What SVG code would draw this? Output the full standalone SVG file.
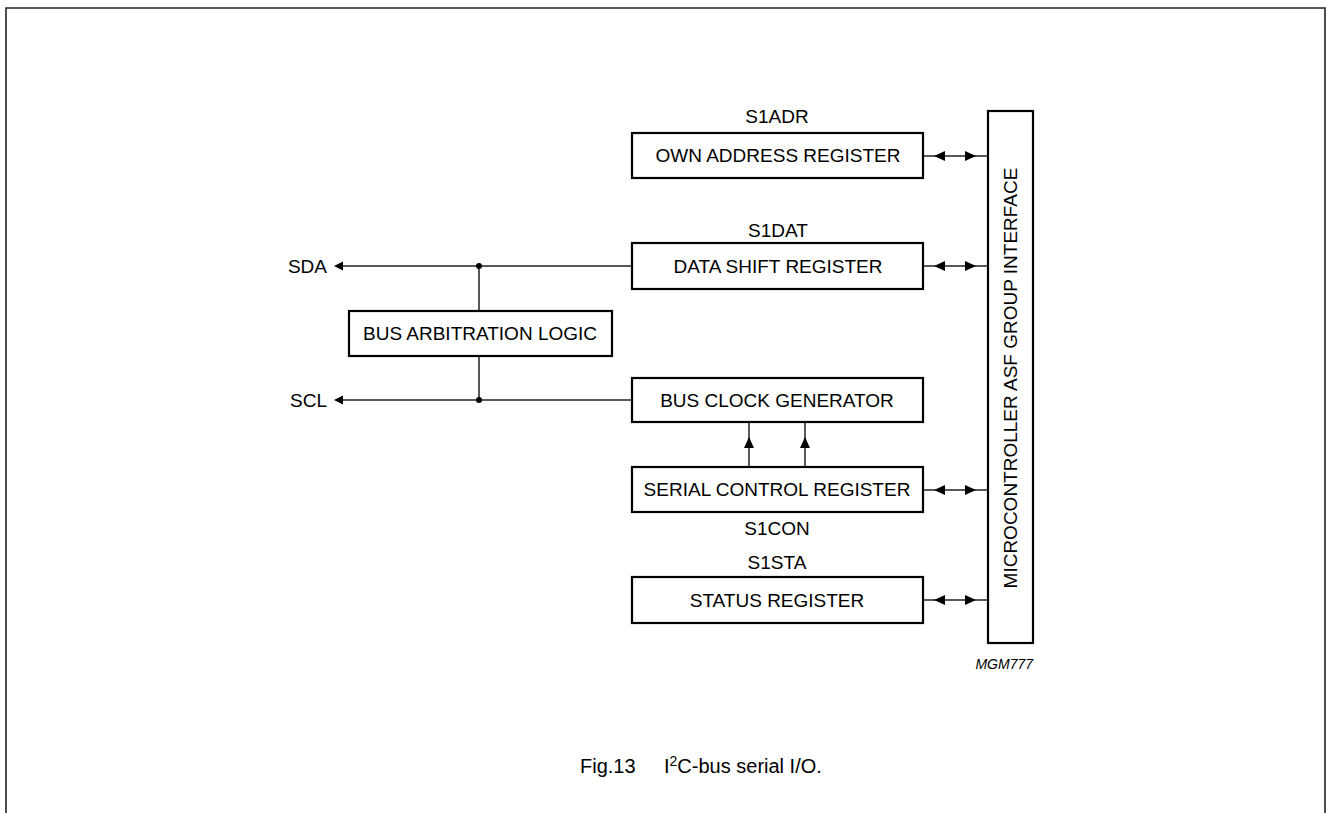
<svg xmlns="http://www.w3.org/2000/svg" width="1327" height="813" viewBox="0 0 1327 813">
<style>
.box{fill:#fff;stroke:#000;stroke-width:2.2}
.ln{fill:none;stroke:#222;stroke-width:1.5}
.t{font-family:"Liberation Sans",Arial,sans-serif;font-size:19px;fill:#000;text-anchor:middle}
.l{font-family:"Liberation Sans",Arial,sans-serif;font-size:19px;fill:#000;text-anchor:end}
.ah{fill:#000}
</style>
<rect width="1327" height="813" fill="#fff"/>
<path d="M6,813 V8 H1325 V813" fill="none" stroke="#222" stroke-width="1.6"/>

<g id="connectors">
  <path class="ln" d="M340,266 H632"/>
  <polygon class="ah" points="334,266 343,261.5 343,270.5"/>
  <path class="ln" d="M340,400 H632"/>
  <polygon class="ah" points="334,400 343,395.5 343,404.5"/>
  <path class="ln" d="M479,266 V311 M479,356 V400"/>
  <circle cx="479" cy="266" r="3" fill="#000"/>
  <circle cx="479" cy="400" r="3" fill="#000"/>
  <path class="ln" d="M749,467 V422 M805,467 V422"/>
  <polygon class="ah" points="749,437 744,448 754,448"/>
  <polygon class="ah" points="805,437 800,448 810,448"/>
  <g>
    <path class="ln" d="M923,156 H988"/>
    <polygon class="ah" points="934,156 945,151 945,161"/>
    <polygon class="ah" points="976,156 965,151 965,161"/>
  </g>
  <g>
    <path class="ln" d="M923,266 H988"/>
    <polygon class="ah" points="934,266 945,261 945,271"/>
    <polygon class="ah" points="976,266 965,261 965,271"/>
  </g>
  <g>
    <path class="ln" d="M923,490 H988"/>
    <polygon class="ah" points="934,490 945,485 945,495"/>
    <polygon class="ah" points="976,490 965,485 965,495"/>
  </g>
  <g>
    <path class="ln" d="M923,600 H988"/>
    <polygon class="ah" points="934,600 945,595 945,605"/>
    <polygon class="ah" points="976,600 965,595 965,605"/>
  </g>
</g>

<g id="own-address-register">
  <text class="t" x="777" y="123">S1ADR</text>
  <rect class="box" x="632" y="133" width="291" height="45"/>
  <text class="t" x="778" y="162">OWN ADDRESS REGISTER</text>
</g>
<g id="data-shift-register">
  <text class="t" x="778" y="237">S1DAT</text>
  <rect class="box" x="632" y="243" width="291" height="46"/>
  <text class="t" x="778" y="273">DATA SHIFT REGISTER</text>
</g>
<g id="bus-arbitration-logic">
  <rect class="box" x="349" y="311" width="263" height="45"/>
  <text class="t" x="480" y="340">BUS ARBITRATION LOGIC</text>
</g>
<g id="bus-clock-generator">
  <rect class="box" x="632" y="378" width="291" height="44"/>
  <text class="t" x="777" y="407">BUS CLOCK GENERATOR</text>
</g>
<g id="serial-control-register">
  <rect class="box" x="632" y="467" width="291" height="45"/>
  <text class="t" x="777" y="496">SERIAL CONTROL REGISTER</text>
  <text class="t" x="777" y="535">S1CON</text>
</g>
<g id="status-register">
  <text class="t" x="777" y="569">S1STA</text>
  <rect class="box" x="632" y="577" width="291" height="46"/>
  <text class="t" x="777" y="607">STATUS REGISTER</text>
</g>
<g id="interface">
  <rect class="box" x="988" y="111" width="45" height="532"/>
  <text class="t" transform="translate(1017,378) rotate(-90)">MICROCONTROLLER ASF GROUP INTERFACE</text>
</g>
<g id="sda">
  <text class="l" x="327" y="273">SDA</text>
</g>
<g id="scl">
  <text class="l" x="327" y="407">SCL</text>
</g>
<text x="1033" y="669" font-family="Liberation Sans, Arial, sans-serif" font-size="14" font-style="italic" text-anchor="end">MGM777</text>
<text y="773" font-family="Liberation Sans, Arial, sans-serif" font-size="20"><tspan x="580">Fig.13</tspan><tspan x="664">I</tspan><tspan font-size="14" dy="-7">2</tspan><tspan dy="7">C-bus serial I/O.</tspan></text>
</svg>
